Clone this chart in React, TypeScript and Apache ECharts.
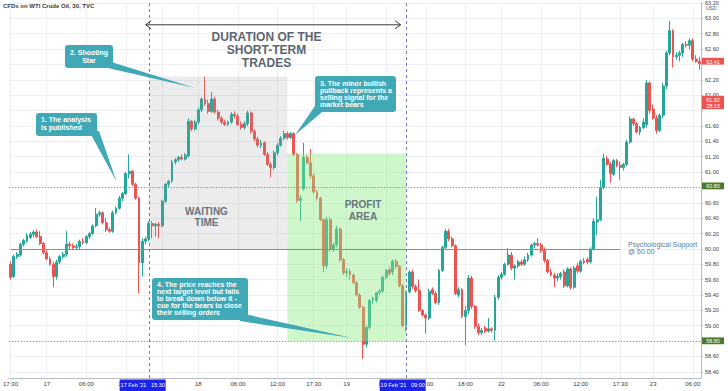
import React, { useEffect, useRef } from "react";
import * as echarts from "echarts";

// ---- data (30-minute candles) ----
const opens = [
  59.80, 59.64, 59.90, 59.92, 60.06, 60.10, 60.15, 60.19, 60.22, 60.16,
  60.07, 59.95, 59.87, 59.80, 59.64, 59.83, 59.90, 59.93, 60.06, 60.04,
  60.02, 60.03, 60.10, 60.08, 60.16, 60.20, 60.30, 60.45, 60.47, 60.34,
  60.25, 60.23, 60.47, 60.53, 60.66, 60.72, 60.98, 61.01, 60.84, 60.66,
  59.82, 60.10, 60.13, 60.33, 60.30, 60.32, 60.30, 60.62, 60.84, 60.88,
  61.13, 61.16, 61.19, 61.17, 61.21, 61.66, 61.56, 61.65, 61.81, 61.95,
  61.89, 61.79, 61.95, 61.78, 61.70, 61.65, 61.62, 61.65, 61.75, 61.73,
  61.62, 61.58, 61.63, 61.77, 61.53, 61.43, 61.35, 61.38, 61.23, 61.10,
  61.06, 61.25, 61.35, 61.44, 61.50, 61.45, 61.50, 61.23, 60.63, 60.78,
  61.19, 61.12, 60.95, 60.74, 60.66, 60.38, 59.78, 60.38, 60.00, 60.05,
  60.26, 59.86, 59.69, 59.71, 59.66, 59.56, 59.40, 59.24, 58.76, 58.98,
  59.33, 59.33, 59.43, 59.45, 59.63, 59.73, 59.70, 59.84, 59.77, 59.52,
  59.00, 59.44, 59.70, 59.51, 59.46, 59.20, 59.14, 59.10, 59.47, 59.42,
  59.30, 59.72, 60.02, 60.23, 60.13, 60.04, 59.40, 59.47, 59.12, 59.20,
  59.62, 59.25, 58.99, 58.91, 58.97, 58.93, 58.96, 58.94, 59.37, 59.63,
  59.67, 59.80, 59.92, 59.75, 59.78, 59.83, 59.80, 59.86, 59.92, 60.05,
  60.07, 60.05, 59.98, 59.85, 59.70, 59.66, 59.62, 59.64, 59.70, 59.52,
  59.74, 59.50, 59.78, 59.71, 59.84, 59.86, 59.83, 60.00, 60.35, 60.38,
  60.80, 61.17, 61.10, 60.97, 61.15, 61.09, 61.06, 61.10, 61.39, 61.69,
  61.63, 61.52, 61.58, 61.62, 62.16, 61.82, 61.70, 61.54, 61.74, 62.12,
  62.55, 62.84, 62.50, 62.52, 62.55, 62.66, 62.65, 62.71, 62.47, 62.44,
];
const highs = [
  59.84, 59.93, 59.96, 60.08, 60.13, 60.20, 60.22, 60.24, 60.25, 60.23,
  60.09, 59.98, 59.90, 59.83, 59.86, 59.92, 59.96, 60.23, 60.09, 60.07,
  60.06, 60.12, 60.14, 60.18, 60.22, 60.32, 60.53, 60.50, 60.49, 60.40,
  60.28, 60.50, 60.55, 60.69, 60.74, 61.00, 61.23, 61.03, 60.86, 60.68,
  60.14, 60.16, 60.36, 60.36, 60.34, 60.35, 60.64, 60.86, 60.90, 61.16,
  61.18, 61.21, 61.23, 61.25, 61.70, 61.68, 61.68, 61.84, 61.97, 62.24,
  61.94, 62.04, 61.98, 61.81, 61.73, 61.68, 61.67, 61.78, 61.79, 61.76,
  61.66, 61.66, 61.80, 61.79, 61.56, 61.46, 61.42, 61.40, 61.26, 61.13,
  61.28, 61.38, 61.47, 61.54, 61.53, 61.52, 61.52, 61.25, 60.70, 61.38,
  61.22, 61.30, 60.98, 60.77, 60.68, 60.40, 60.42, 60.41, 60.08, 60.30,
  60.28, 59.88, 59.75, 59.74, 59.68, 59.58, 59.42, 59.26, 59.00, 59.35,
  59.38, 59.44, 59.48, 59.65, 59.74, 59.77, 59.86, 59.87, 59.79, 59.54,
  59.46, 59.72, 59.73, 59.54, 59.60, 59.22, 59.16, 59.48, 59.50, 59.45,
  59.74, 60.04, 60.26, 60.26, 60.16, 60.06, 59.50, 59.49, 59.26, 59.66,
  59.65, 59.27, 59.03, 58.97, 59.00, 59.10, 58.98, 59.40, 59.66, 59.70,
  59.82, 60.01, 59.96, 59.80, 59.86, 59.86, 59.90, 59.95, 60.07, 60.09,
  60.14, 60.08, 60.02, 59.87, 59.74, 59.69, 59.68, 59.70, 59.73, 59.76,
  59.76, 59.78, 59.82, 59.86, 59.88, 59.89, 60.02, 60.40, 60.68, 60.90,
  61.24, 61.21, 61.13, 61.17, 61.17, 61.14, 61.12, 61.42, 61.72, 61.71,
  61.65, 61.60, 61.70, 62.20, 62.18, 61.88, 61.74, 61.76, 62.16, 62.58,
  62.97, 62.86, 62.56, 62.58, 62.68, 62.70, 62.74, 62.74, 62.52, 62.50,
];
const lows = [
  59.60, 59.62, 59.87, 59.90, 60.03, 60.08, 60.13, 60.15, 60.14, 60.05,
  59.93, 59.85, 59.78, 59.50, 59.60, 59.80, 59.87, 59.90, 60.00, 59.99,
  59.99, 60.00, 60.06, 60.06, 60.13, 60.18, 60.28, 60.42, 60.32, 60.22,
  60.21, 60.21, 60.45, 60.51, 60.62, 60.70, 60.92, 60.82, 60.64, 59.42,
  59.64, 60.06, 60.10, 60.14, 60.16, 60.14, 60.28, 60.60, 60.80, 60.86,
  61.10, 61.13, 61.15, 61.15, 61.19, 61.53, 61.54, 61.62, 61.78, 61.86,
  61.76, 61.77, 61.76, 61.67, 61.62, 61.60, 61.60, 61.63, 61.70, 61.60,
  61.55, 61.55, 61.60, 61.50, 61.40, 61.32, 61.31, 61.21, 61.08, 60.93,
  61.03, 61.22, 61.33, 61.42, 61.42, 61.43, 61.21, 60.60, 60.36, 60.76,
  61.10, 60.92, 60.72, 60.63, 60.36, 59.70, 59.74, 59.96, 59.96, 60.02,
  59.83, 59.66, 59.64, 59.60, 59.54, 59.38, 59.22, 58.57, 58.72, 58.95,
  59.28, 59.30, 59.40, 59.43, 59.60, 59.65, 59.66, 59.74, 59.50, 58.98,
  58.92, 59.42, 59.48, 59.43, 59.18, 59.12, 58.90, 59.07, 59.40, 59.28,
  59.27, 59.70, 60.00, 60.10, 60.02, 59.40, 59.37, 59.10, 58.75, 59.15,
  59.22, 58.96, 58.88, 58.88, 58.90, 58.91, 58.91, 58.81, 59.34, 59.60,
  59.65, 59.78, 59.72, 59.60, 59.75, 59.78, 59.78, 59.83, 59.90, 60.01,
  60.03, 59.95, 59.82, 59.68, 59.64, 59.50, 59.58, 59.60, 59.49, 59.50,
  59.47, 59.48, 59.68, 59.69, 59.80, 59.80, 59.81, 59.98, 60.18, 60.36,
  60.78, 61.08, 60.86, 60.95, 61.06, 60.90, 61.02, 61.08, 61.37, 61.60,
  61.50, 61.48, 61.56, 61.58, 61.76, 61.68, 61.50, 61.52, 61.70, 62.08,
  62.52, 62.36, 62.46, 62.44, 62.50, 62.62, 62.60, 62.44, 62.42, 62.33,
];
const closes = [
  59.63, 59.90, 59.93, 60.06, 60.11, 60.17, 60.19, 60.22, 60.16, 60.07,
  59.95, 59.87, 59.80, 59.64, 59.83, 59.90, 59.93, 60.06, 60.04, 60.02,
  60.03, 60.10, 60.08, 60.16, 60.20, 60.30, 60.45, 60.47, 60.34, 60.25,
  60.23, 60.47, 60.53, 60.66, 60.72, 60.98, 61.01, 60.84, 60.66, 59.82,
  60.10, 60.13, 60.33, 60.30, 60.32, 60.30, 60.62, 60.84, 60.88, 61.13,
  61.16, 61.19, 61.17, 61.22, 61.66, 61.56, 61.65, 61.81, 61.95, 61.89,
  61.79, 61.95, 61.78, 61.70, 61.65, 61.62, 61.65, 61.75, 61.73, 61.62,
  61.58, 61.63, 61.77, 61.53, 61.43, 61.35, 61.38, 61.23, 61.10, 61.06,
  61.25, 61.35, 61.44, 61.50, 61.45, 61.50, 61.23, 60.63, 60.66, 61.19,
  61.12, 60.95, 60.74, 60.66, 60.38, 59.78, 60.38, 60.00, 60.05, 60.26,
  59.86, 59.69, 59.71, 59.66, 59.56, 59.40, 59.24, 58.76, 58.98, 59.33,
  59.36, 59.43, 59.45, 59.63, 59.72, 59.68, 59.84, 59.77, 59.52, 59.00,
  59.44, 59.70, 59.51, 59.46, 59.20, 59.14, 59.10, 59.45, 59.42, 59.30,
  59.72, 60.02, 60.23, 60.13, 60.04, 59.42, 59.47, 59.12, 59.20, 59.62,
  59.25, 58.99, 58.91, 58.94, 58.93, 58.96, 58.94, 59.37, 59.63, 59.67,
  59.80, 59.92, 59.75, 59.78, 59.83, 59.80, 59.86, 59.92, 60.05, 60.07,
  60.05, 59.98, 59.85, 59.70, 59.66, 59.62, 59.64, 59.68, 59.52, 59.74,
  59.50, 59.75, 59.71, 59.84, 59.82, 59.83, 60.00, 60.36, 60.38, 60.80,
  61.18, 61.10, 60.98, 61.15, 61.09, 61.06, 61.10, 61.39, 61.69, 61.63,
  61.52, 61.58, 61.65, 62.16, 61.80, 61.70, 61.54, 61.74, 62.12, 62.55,
  62.84, 62.50, 62.52, 62.55, 62.66, 62.65, 62.71, 62.47, 62.44, 62.41,
];

// time-axis grid positions and the labels that are visible in the picture
const xGridIndex = [0, 11, 23, 35, 46, 57, 69, 81, 92, 102, 114, 126, 138, 149, 161, 173, 185, 195, 207];
const xTickIndex = [0, 11, 23, 35, 57, 69, 81, 92, 102, 114, 126, 138, 149, 161, 173, 185, 195, 207];
const xTickText = ["17:30", "17", "06:00", "12:00", "18", "06:00", "12:00", "17:30", "19", "06:00", "12:00", "18:00", "22", "06:00", "12:00", "17:30", "23", "06:00"];

const dottedLevels = [60.8, 58.8];
const supportLevel = 60.0;
const supportEndIndex = 185;
const eventIndex = [42, 120];
const eventLabel = ["17 Feb '21   15:30", "19 Feb '21   09:00"];
const waitingZone = { from: 42, to: 84, low: 60.0, high: 62.245 };
const profitZone = { from: 84, to: 120, low: 58.8, high: 61.24 };
const tagValues = [62.41, 61.92, 60.8, 58.8];
const tagTexts = ["62.41", "61.92\n28:13", "60.80", "58.80"];
// price-axis labels hidden behind the tags
const coveredAxisLabels = ["62.40", "61.80", "60.80", "58.80"];
const arrowLevel = 62.88;

// ---- layout ----
const W = 728;
const H = 391;
const G = { left: 1, right: 27, top: 0, bottom: 13 };
const Y_MIN = 58.32;
const Y_MAX = 63.2;
const N = opens.length;
const plotW = W - G.left - G.right;
const plotH = H - G.top - G.bottom;
const px = (i: number) => G.left + ((i + 0.5) * plotW) / N;
const py = (p: number) => G.top + ((Y_MAX - p) / (Y_MAX - Y_MIN)) * plotH;

const FONT = "'Liberation Sans', Arial, Helvetica, sans-serif";
const TEAL = "#41a8b6";
const UP = "#26a69a";
const DOWN = "#ef5350";
const TAG_GREEN = "#4a7a2c";
const GRIDC = "#eceff3";

function txt(x: number, y: number, text: string, o: any = {}) {
  return {
    type: "text",
    x,
    y,
    z: 101,
    silent: true,
    style: {
      text,
      fontFamily: FONT,
      fontSize: 7,
      fill: "#ffffff",
      align: "left",
      verticalAlign: "middle",
      ...o,
    },
  };
}

function callout(
  box: { x: number; y: number; w: number; h: number },
  tail: number[][],
  text: string,
  tx: number,
  ty: number,
  align: string,
  lh: number
) {
  return [
    { type: "polygon", z: 100, silent: true, shape: { points: tail }, style: { fill: TEAL } },
    {
      type: "rect",
      z: 100,
      silent: true,
      shape: { x: box.x, y: box.y, width: box.w, height: box.h, r: 3 },
      style: { fill: TEAL },
    },
    txt(tx, ty, text, { align, lineHeight: lh, fontWeight: "bold", fontSize: 7 }),
  ];
}

function buildGraphic() {
  const g: any[] = [];
  g.push(txt(3, 6, "CFDs on WTI Crude Oil, 30, TVC", { fontSize: 6, fontWeight: "bold", fill: "#3c3c3c" }));
  g.push(txt(706, 7.5, "USD", { fontSize: 5, fill: "#555555" }));

  // duration arrow
  const ay = py(arrowLevel);
  const ax1 = px(eventIndex[0]) + 3;
  const ax2 = px(eventIndex[1]) - 2;
  g.push({ type: "line", z: 100, silent: true, shape: { x1: ax1, y1: ay, x2: ax2, y2: ay }, style: { stroke: "#3a3a3a", lineWidth: 1 } });
  g.push({ type: "polyline", z: 100, silent: true, shape: { points: [[ax1 + 5.5, ay - 4], [ax1, ay], [ax1 + 5.5, ay + 4]] }, style: { stroke: "#3a3a3a", lineWidth: 1, fill: null } });
  g.push({ type: "polyline", z: 100, silent: true, shape: { points: [[ax2 - 5.5, ay - 4], [ax2, ay], [ax2 - 5.5, ay + 4]] }, style: { stroke: "#3a3a3a", lineWidth: 1, fill: null } });

  g.push(txt(266.5, 50, "DURATION OF THE\nSHORT-TERM\nTRADES", { align: "center", fontSize: 12, fontWeight: "bold", lineHeight: 13, fill: "#5c6670" }));
  g.push(txt(206.5, 216.5, "WAITING\nTIME", { align: "center", fontSize: 10, fontWeight: "bold", lineHeight: 11, fill: "#6a747e" }));
  g.push(txt(363, 210, "PROFIT\nAREA", { align: "center", fontSize: 10, fontWeight: "bold", lineHeight: 12, fill: "#6a747e" }));
  g.push(txt(628, 248, "Psychological Support\n@ 60.00", { fontSize: 7, lineHeight: 7, fill: "#5a7a96" }));

  // callouts
  g.push(...callout({ x: 36, y: 113, w: 61, h: 23 }, [[89, 131], [99, 131], [116.5, 181.5]], "1. The analysis\nis published", 41, 123.5, "left", 7.5));
  g.push(...callout({ x: 65, y: 45, w: 48, h: 23 }, [[108, 61], [108, 68], [195, 88]], "2. Shooting\nStar", 89, 56.5, "center", 7.5));
  g.push(...callout({ x: 315, y: 76, w: 81, h: 36 }, [[315, 106], [322, 112], [295, 135]], "3. The minor bullish\npullback represents a\nselling signal for the\nmarket bears", 320, 94, "left", 7));
  g.push(...callout({ x: 152, y: 278, w: 96, h: 42 }, [[240, 313], [240, 321], [352, 338]], "4. The price reaches the\nnext target level but fails\nto break down below it -\ncue for the bears to close\ntheir selling orders", 157, 298.5, "left", 6.8));

  // price tags on the right axis
  tagValues.forEach((v, k) => {
    const t = tagTexts[k];
    const nLines = t.split("\n").length;
    const y0 = py(v) - 3.4;
    const fill = v === 60.8 || v === 58.8 ? TAG_GREEN : DOWN;
    g.push({ type: "rect", z: 100, silent: true, shape: { x: 702, y: y0, width: 22, height: nLines * 6.6 + 0.2 }, style: { fill } });
    g.push(txt(713, y0 + 0.6, t, { align: "center", verticalAlign: "top", fontSize: 5.5, lineHeight: 6.6 }));
  });

  // event date boxes on the time axis
  eventIndex.forEach((idx, k) => {
    const cx = px(idx);
    g.push({ type: "rect", z: 100, silent: true, shape: { x: cx - 23, y: 379.5, width: 46, height: 11.5 }, style: { fill: "#1c22e8" } });
    g.push(txt(cx, 385.3, eventLabel[k], { align: "center", fontSize: 5.5 }));
  });
  return g;
}

export default function App() {
  const ref = useRef<HTMLDivElement>(null);
  useEffect(() => {
    if (!ref.current) return;
    const chart = echarts.init(ref.current, undefined, { renderer: "svg" });
    const categories = opens.map((_, i) => String(i));
    const tickMap = new Map<number, string>();
    xTickIndex.forEach((i, k) => tickMap.set(i, xTickText[k]));
    const candles = opens.map((o, i) => [o, closes[i], lows[i], highs[i]]);

    const option: any = {
      animation: false,
      textStyle: { fontFamily: FONT },
      grid: { left: G.left, right: G.right, top: G.top, bottom: G.bottom, containLabel: false },
      xAxis: {
        type: "category",
        data: categories,
        boundaryGap: true,
        axisLine: { lineStyle: { color: "#b9bcc4" } },
        axisTick: { show: false },
        axisLabel: {
          interval: (idx: number) => tickMap.has(idx),
          formatter: (v: string) => tickMap.get(Number(v)) ?? "",
          fontSize: 6,
          color: "#3a3a3a",
          margin: 3,
          fontFamily: FONT,
        },
        splitLine: { show: false },
      },
      yAxis: {
        type: "value",
        position: "right",
        min: Y_MIN,
        max: Y_MAX,
        splitNumber: 24,
        axisLine: { show: true, lineStyle: { color: "#b9bcc4" } },
        axisTick: { show: true, length: 2, lineStyle: { color: "#b9bcc4" } },
        axisLabel: {
          fontSize: 5.5,
          color: "#3a3a3a",
          margin: 4,
          showMinLabel: false,
          fontFamily: FONT,
          formatter: (v: number) => {
            const s = v.toFixed(2);
            return coveredAxisLabels.includes(s) ? "" : s;
          },
        },
        splitLine: { show: true, lineStyle: { color: GRIDC, width: 1 } },
      },
      series: [
        {
          type: "line",
          data: [],
          silent: true,
          markLine: {
            z: 1,
            silent: true,
            symbol: "none",
            label: { show: false },
            lineStyle: { color: GRIDC, width: 1, type: "solid" },
            data: xGridIndex.map((i) => ({ xAxis: String(i) })),
          },
        },
        {
          type: "candlestick",
          z: 2,
          data: candles,
          barWidth: 2.4,
          itemStyle: {
            color: UP,
            color0: DOWN,
            borderColor: UP,
            borderColor0: DOWN,
            borderWidth: 1,
          },
          markArea: {
            z: 3,
            silent: true,
            label: { show: false },
            data: [
              [
                { xAxis: String(waitingZone.from), yAxis: waitingZone.high, itemStyle: { color: "rgba(150,150,150,0.18)" } },
                { xAxis: String(waitingZone.to), yAxis: waitingZone.low },
              ],
              [
                { xAxis: String(profitZone.from), yAxis: profitZone.high, itemStyle: { color: "rgba(140,235,130,0.42)" } },
                { xAxis: String(profitZone.to), yAxis: profitZone.low },
              ],
            ],
          },
          markLine: {
            z: 4,
            silent: true,
            symbol: "none",
            label: { show: false },
            data: [
              ...dottedLevels.map((v) => ({ yAxis: v, lineStyle: { color: "#85888f", width: 1, type: [1, 2] } })),
              [
                { xAxis: "0", yAxis: supportLevel, lineStyle: { color: "#78a25a", width: 1, type: "solid" } },
                { xAxis: String(supportEndIndex), yAxis: supportLevel },
              ],
              ...eventIndex.map((i) => ({ xAxis: String(i), lineStyle: { color: "#7175de", width: 1, type: [3, 3] } })),
            ],
          },
        },
      ],
      graphic: buildGraphic(),
    };
    chart.setOption(option);
    return () => chart.dispose();
  }, []);
  return (
    <div
      ref={ref}
      style={{ position: "fixed", left: 0, top: 0, width: W, height: H, background: "#ffffff" }}
    />
  );
}
